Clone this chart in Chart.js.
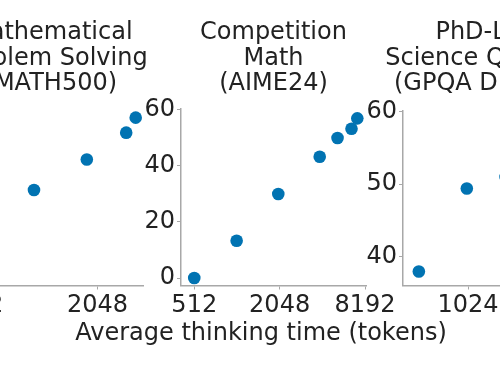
<!DOCTYPE html>
<html><head><meta charset="utf-8">
<script src="https://cdn.jsdelivr.net/npm/chart.js@4"></script>
<style>
html,body{margin:0;padding:0;background:#fff;overflow:hidden;width:500px;height:375px;position:relative;}
.p{position:absolute;top:0;width:450px;height:375px;}
</style></head><body>
<div class="p" style="left:-200px"><canvas id="c1" width="450" height="375"></canvas></div>
<div class="p" style="left:50px"><canvas id="c2" width="450" height="375"></canvas></div>
<div class="p" style="left:250px"><canvas id="c3" width="450" height="375"></canvas></div>
<script>
// ---- data ----
const mathTitle = ["Mathematical", "Problem Solving", "(MATH500)"];
const mathTokens = [965, 1803, 2874, 3215];
const mathAcc = [79.8, 85.5, 90.5, 93.3];
const mathXTicks = [512, 2048];
const mathYTicks = [70, 80, 90];

const aimeTitle = ["Competition", "Math", "(AIME24)"];
const aimeTokens = [512, 1019, 2004, 3927, 5243, 6580, 7230];
const aimeAcc = [0, 13.3, 30, 43.3, 50, 53.3, 57];
const aimeXTicks = [512, 2048, 8192];
const aimeYTicks = [0, 20, 40, 60];

const gpqaTitle = ["PhD-Level", "Science Questions", "(GPQA Diamond)"];
const gpqaTokens = [517, 1006, 1722];
const gpqaAcc = [37.9, 49.4, 51.0];
const gpqaXTicks = [1024, 4096];
const gpqaYTicks = [40, 50, 60];

const xLabel = "Average thinking time (tokens)";

// ---- styling ----
const FONT = 'DejaVu Sans';
const TEXT = '#222222';
const SPINE = '#a8a8a8';
const DOT = '#0173B2';
const SIDE = 100; // width reserved for each y axis (left real, right blank) so the title centres on the plot area
Chart.defaults.font.family = FONT;
Chart.defaults.font.size = 24;

function makeChart(id, o, extraPlugins) {
  return new Chart(document.getElementById(id), {
    type: 'scatter',
    data: {
      datasets: [{
        data: o.x.map((v, i) => ({x: v, y: o.y[i]})),
        backgroundColor: DOT,
        borderWidth: 0,
        pointRadius: 6.3,
        pointHoverRadius: 6.3,
        clip: false
      }]
    },
    options: {
      responsive: false,
      animation: false,
      events: [],
      layout: {padding: {left: o.padL, right: o.padR, top: 0, bottom: 0}},
      plugins: {
        legend: {display: false},
        tooltip: {enabled: false},
        title: {
          display: true,
          text: o.title,
          color: TEXT,
          font: {size: 24, weight: 'normal', lineHeight: 1.07},
          padding: {top: 20, bottom: o.titleBottom}
        }
      },
      scales: {
        x: {
          type: 'logarithmic',
          min: o.xMin, max: o.xMax,
          afterBuildTicks: s => { s.ticks = o.xTicks.map(v => ({value: v})); },
          afterFit: s => { s.height = 89.5; },
          ticks: {
            callback: v => String(v),
            color: TEXT, font: {size: 24, lineHeight: 1},
            padding: 4, maxRotation: 0, autoSkip: false
          },
          grid: {display: true, drawOnChartArea: false, drawTicks: true, tickLength: 4, color: SPINE, lineWidth: 1},
          border: {display: true, color: SPINE, width: 1.5}
        },
        y: {
          type: 'linear',
          min: o.yMin, max: o.yMax,
          afterBuildTicks: s => { s.ticks = o.yTicks.map(v => ({value: v})); },
          afterFit: s => { s.width = SIDE; },
          ticks: {
            callback: v => String(v),
            color: TEXT, font: {size: 24, lineHeight: 1},
            padding: 2
          },
          grid: {display: true, drawOnChartArea: false, drawTicks: true, tickLength: 4, color: SPINE, lineWidth: 1},
          border: {display: true, color: SPINE, width: 1.5}
        },
        yBlank: {
          type: 'linear',
          position: 'right',
          min: o.yMin, max: o.yMax,
          afterFit: s => { s.width = SIDE; },
          ticks: {display: false},
          grid: {display: false},
          border: {display: false}
        }
      }
    },
    plugins: extraPlugins || []
  });
}

makeChart('c1', {
  x: mathTokens, y: mathAcc, title: mathTitle,
  xTicks: mathXTicks, yTicks: mathYTicks,
  xMin: 394, xMax: 3518, yMin: 62, yMax: 95,
  padL: 58.3, padR: 6.7, titleBottom: 11.5
});

const xLabelPlugin = {
  id: 'xlabel',
  afterDraw(chart) {
    const ctx = chart.ctx;
    ctx.save();
    ctx.font = '24px "' + FONT + '"';
    ctx.fillStyle = TEXT;
    ctx.textAlign = 'center';
    ctx.textBaseline = 'alphabetic';
    ctx.fillText(xLabel, 211, 340);
    ctx.restore();
  }
};

makeChart('c2', {
  x: aimeTokens, y: aimeAcc, title: aimeTitle,
  xTicks: aimeXTicks, yTicks: aimeYTicks,
  xMin: 412.8, xMax: 8326, yMin: -2.67, yMax: 60.5,
  padL: 31, padR: 34, titleBottom: 11.5
}, [xLabelPlugin]);

makeChart('c3', {
  x: gpqaTokens, y: gpqaAcc, title: gpqaTitle,
  xTicks: gpqaXTicks, yTicks: gpqaYTicks,
  xMin: 415, xMax: 5405, yMin: 35.97, yMax: 60.18,
  padL: 53, padR: 12, titleBottom: 13.5
});
</script>
</body></html>
